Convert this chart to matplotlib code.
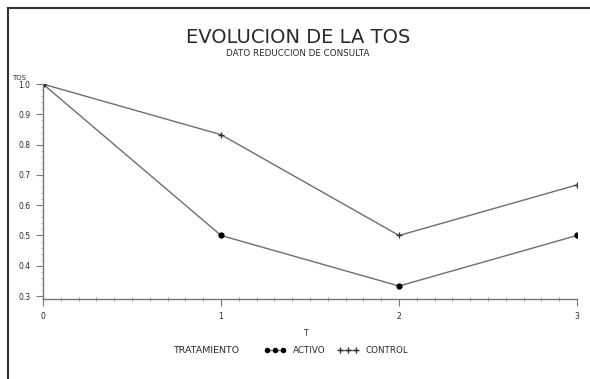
# Evolución de la tos por tratamiento

import matplotlib.pyplot as plt
from matplotlib.lines import Line2D
from matplotlib.ticker import MultipleLocator, FormatStrFormatter

tiempo = [0, 1, 2, 3]
activo = [1.0, 0.5, 0.333, 0.5]
control = [1.0, 0.833, 0.5, 0.667]
yticks = [0.3, 0.4, 0.5, 0.6, 0.7, 0.8, 0.9, 1.0]

txt = '#2a2a2a'
linea = '#6e6e6e'

fig = plt.figure(figsize=(5.9, 3.79), dpi=100)
ax = fig.add_axes([0.073, 0.211, 0.905, 0.567])

ax.plot(tiempo, activo, color=linea, lw=1.0, marker='o', ms=3.5,
        mfc='black', mec='black', label='ACTIVO')
ax.plot(tiempo, control, color=linea, lw=1.0, marker='+', ms=4.5,
        mec='#333333', mew=1.0, label='CONTROL')

ax.set_xlim(0, 3)
ax.set_ylim(0.29, 1.0)
ax.set_xticks(tiempo)
ax.set_yticks(yticks)
ax.xaxis.set_minor_locator(MultipleLocator(0.1))
ax.yaxis.set_minor_locator(MultipleLocator(0.02))
ax.yaxis.set_major_formatter(FormatStrFormatter('%.1f'))

for s in ['top', 'right']:
    ax.spines[s].set_visible(False)
for s in ['left', 'bottom']:
    ax.spines[s].set_color('#777777')
    ax.spines[s].set_linewidth(1.0)

ax.tick_params(which='major', direction='out', length=5, width=0.8,
               colors='#777777', labelsize=5.5, labelcolor=txt, pad=4)
ax.tick_params(axis='x', which='minor', direction='inout', length=3,
               width=0.6, colors='#999999')
ax.tick_params(axis='y', which='minor', direction='out', length=1.5,
               width=0.6, colors='#aaaaaa')

ax.text(-0.045, 1.015, 'TOS', transform=ax.transAxes, fontsize=5,
        color=txt, ha='center', va='bottom')

fig.text(0.505, 0.9, 'EVOLUCION DE LA TOS', ha='center', va='center',
         fontsize=14, color=txt)
fig.text(0.505, 0.86, 'DATO REDUCCION DE CONSULTA', ha='center',
         va='center', fontsize=6.3, color=txt)
fig.text(0.519, 0.121, 'T', ha='center', va='center', fontsize=5.5, color=txt)

fig.text(0.35, 0.076, 'TRATAMIENTO', ha='center', va='center',
         fontsize=6.8, color=txt)
leg = fig.legend(loc='center', bbox_to_anchor=(0.57, 0.076), ncol=2,
                 frameon=False, numpoints=3, handlelength=2.4,
                 fontsize=6.3, columnspacing=1.4, handletextpad=0.8,
                 markerscale=0.85)
for t in leg.get_texts():
    t.set_color(txt)

# marco de la página
fig.add_artist(Line2D([8 / 590, 8 / 590], [0, 1 - 8 / 379], color='#333333',
                      lw=1.5, transform=fig.transFigure))
fig.add_artist(Line2D([8 / 590, 1], [1 - 8 / 379, 1 - 8 / 379],
                      color='#333333', lw=1.5, transform=fig.transFigure))

plt.savefig('out.png', dpi=100)
